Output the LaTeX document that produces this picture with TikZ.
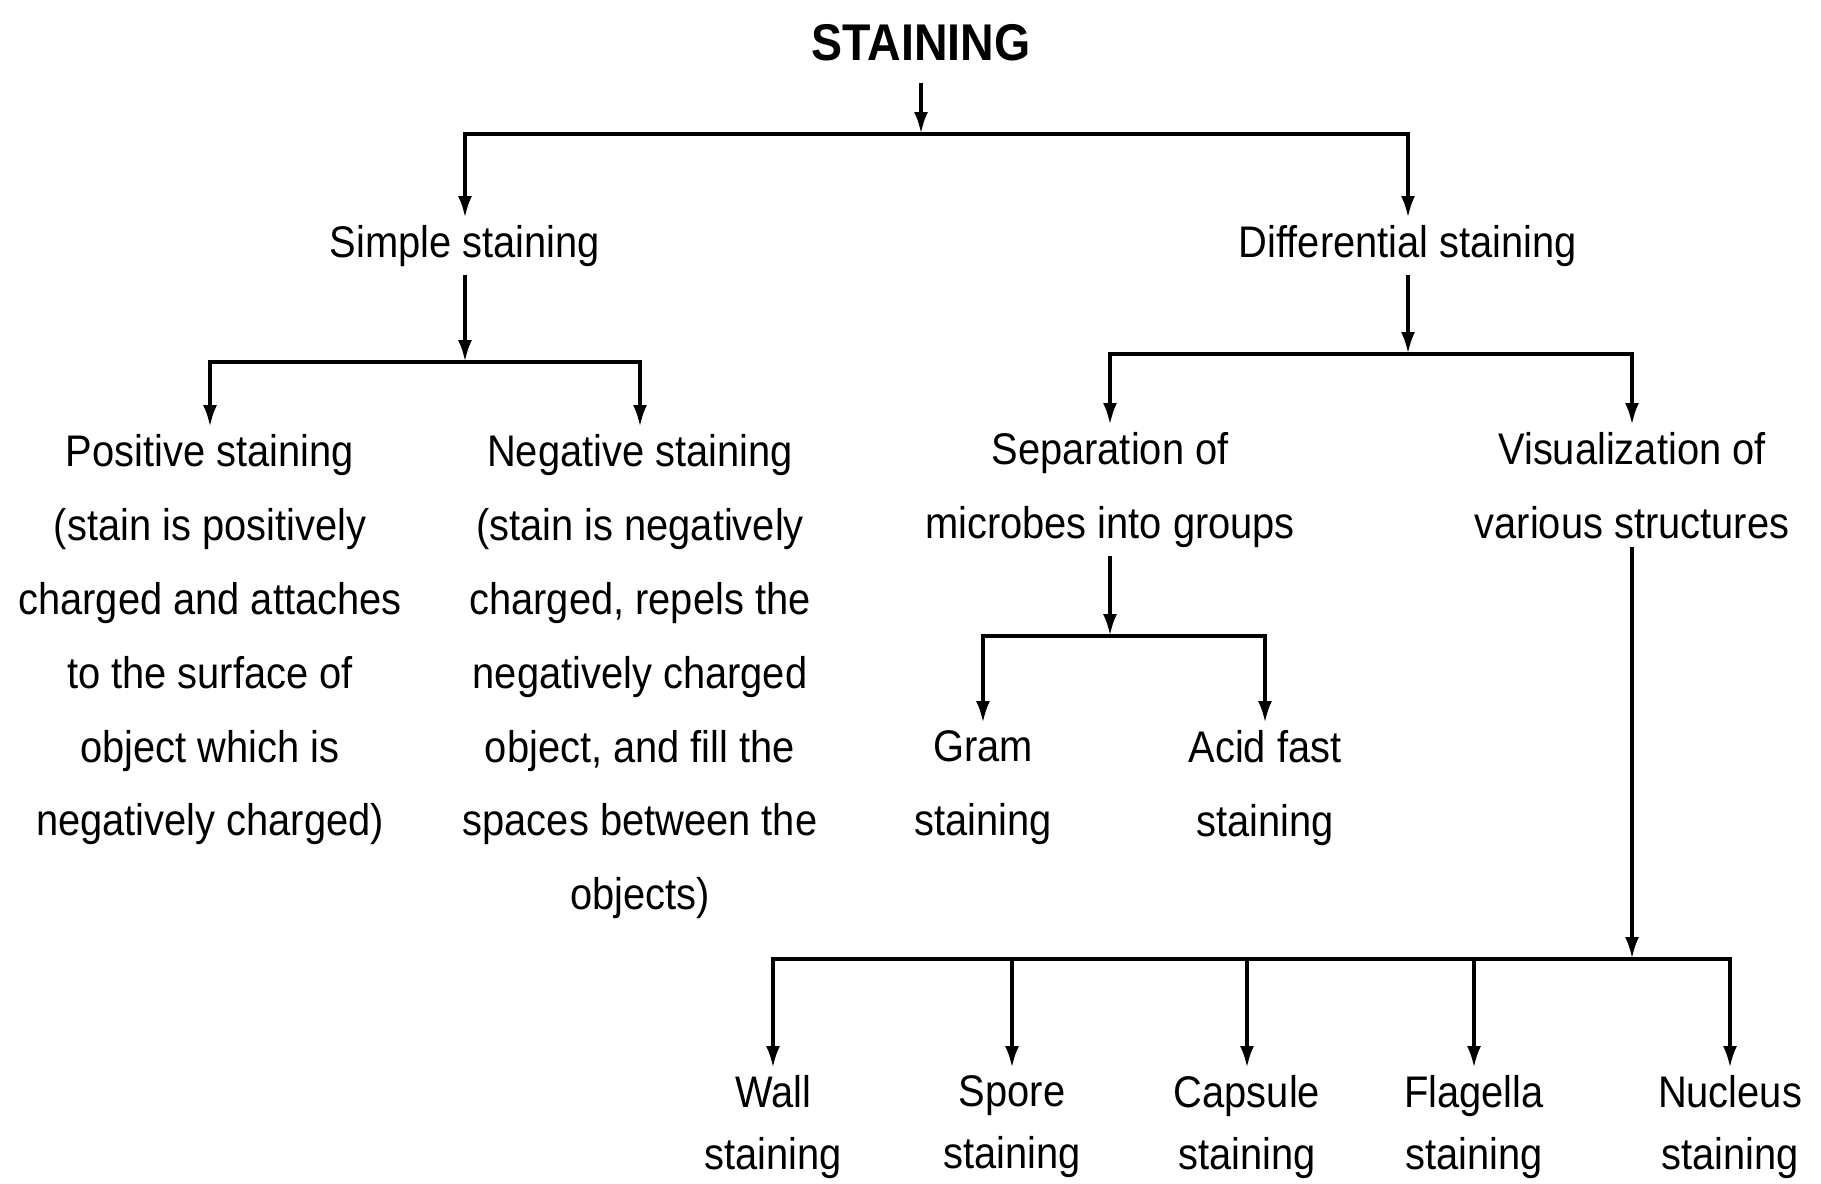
\documentclass[tikz,border=0pt]{standalone}
\usepackage{fontspec}
\setmainfont[FakeStretch=0.9]{Liberation Sans}
\usetikzlibrary{arrows.meta, positioning, calc}
\tikzset{
    head/.style={
        font=\fontsize{14.7}{18}\selectfont\bfseries,
        inner sep=6pt
    },
    item/.style={
        anchor=north,
        align=center,
        inner sep=2pt,
        font=\fontsize{12.6}{21}\selectfont
    },
    leaf/.style={
        item,
        font=\fontsize{12.6}{17.5}\selectfont
    },
    arrow/.style={
        -{Latex[length=2.2mm,width=1.4mm]},
        line width=1.1pt
    }
}

\begin{document}
\begin{tikzpicture}

    \useasboundingbox (0,0) rectangle (18.21,-11.83);

    % Title
    \node[head] (staining) at (9.21,-0.43) {STAINING};

    % Two kinds
    \node[item] (simple) at (4.65,-2.18) {Simple staining};
    \node[item] (diff) at (14.08,-2.18) {Differential staining};

    % Simple staining
    \node[item] (pos) at (2.10,-4.27) {Positive staining\\(stain is positively\\charged and attaches\\to the surface of\\object which is\\negatively charged)};
    \node[item] (neg) at (6.40,-4.27) {Negative staining\\(stain is negatively\\charged, repels the\\negatively charged\\object, and fill the\\spaces between the\\objects)};

    % Differential staining
    \node[item] (sep) at (11.10,-4.25) {Separation of\\microbes into groups};
    \node[item] (vis) at (16.32,-4.25) {Visualization of\\various structures};
    \node[item] (gram) at (9.83,-7.23) {Gram\\staining};
    \node[item] (acid) at (12.65,-7.23) {Acid fast\\staining};

    % Structures
    \node[leaf] (wall) at (7.73,-10.68) {Wall\\staining};
    \node[leaf] (spore) at (10.12,-10.68) {Spore\\staining};
    \node[leaf] (capsule) at (12.47,-10.68) {Capsule\\staining};
    \node[leaf] (flagella) at (14.74,-10.68) {Flagella\\staining};
    \node[leaf] (nucleus) at (17.30,-10.68) {Nucleus\\staining};

    % Junctions
    \coordinate (j0) at (9.21,-1.34);
    \coordinate (j1) at (4.65,-3.62);
    \coordinate (j2) at (14.08,-3.54);
    \coordinate (j3) at (11.10,-6.36);
    \coordinate (j4) at (16.32,-9.59);

    % Arrows
    \draw[arrow] (staining) -- (j0);
    \draw[arrow] (j0) -| (simple.north);
    \draw[arrow] (j0) -| (diff.north);

    \draw[arrow] (simple) -- (j1);
    \draw[arrow] (j1) -| (pos.north);
    \draw[arrow] (j1) -| (neg.north);

    \draw[arrow] (diff) -- (j2);
    \draw[arrow] (j2) -| (sep.north);
    \draw[arrow] (j2) -| (vis.north);

    \draw[arrow] (sep) -- (j3);
    \draw[arrow] (j3) -| (gram.north);
    \draw[arrow] (j3) -| (acid.north);

    \draw[arrow] (vis) -- (j4);
    \draw[arrow] (j4) -| (wall.north);
    \draw[arrow] (j4) -| (spore.north);
    \draw[arrow] (j4) -| (capsule.north);
    \draw[arrow] (j4) -| (flagella.north);
    \draw[arrow] (j4) -| (nucleus.north);

\end{tikzpicture}
\end{document}
